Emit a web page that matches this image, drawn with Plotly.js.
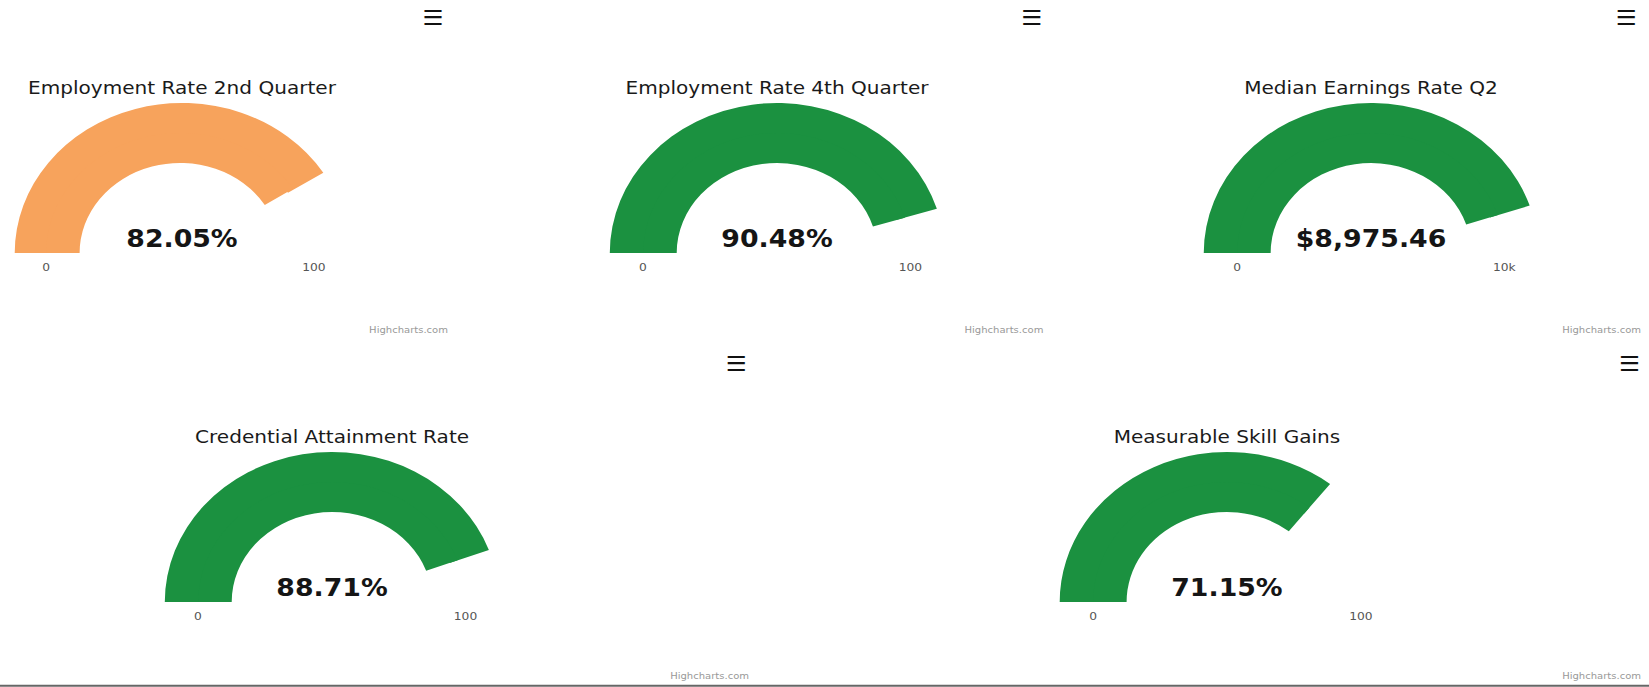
<!DOCTYPE html>
<html><head><meta charset="utf-8">
<script src="https://cdn.plot.ly/plotly-3.0.1.min.js"></script>
<style>
html,body{margin:0;padding:0;background:#fff;overflow:hidden;}
#wrap{width:1649px;height:687px;overflow:hidden;position:relative;background:#fff;}
#chart{width:1479px;height:687px;transform:scaleX(1.115);transform-origin:0 0;}
</style></head><body><div id="wrap"><div id="chart"></div></div>
<script>
// ---- data ----
const titles = ["Employment Rate 2nd Quarter", "Employment Rate 4th Quarter", "Median Earnings Rate Q2", "Credential Attainment Rate", "Measurable Skill Gains"];
const values = [82.05, 90.48, 8975.46, 88.71, 71.15];
const maxValues = [100, 100, 10000, 100, 100];
const minLabels = ["0", "0", "0", "0", "0"];
const maxLabels = ["100", "100", "10k", "100", "100"];
const prefixes = ["", "", "$", "", ""];
const suffixes = ["%", "%", "", "%", "%"];
const formats = [".2f", ".2f", ",.2f", ".2f", ".2f"];

// ---- styling / layout ----
const colors = ["#f7a35c", "#1b9140", "#1b9140", "#1b9140", "#1b9140"];
const W = 1479, H = 687, R = 150;
const panels = [
  {cx: 161.4, base: 253, menuX: 388, menuY: 18, creditX: 403.6, creditY: 330},
  {cx: 696.9, base: 253, menuX: 925, menuY: 18, creditX: 938.1, creditY: 330},
  {cx: 1229.6, base: 253, menuX: 1458, menuY: 18, creditX: 1473.5, creditY: 330},
  {cx: 297.8, base: 602, menuX: 660, menuY: 364, creditX: 673.5, creditY: 676},
  {cx: 1100.4, base: 602, menuX: 1461, menuY: 364, creditX: 1473.5, creditY: 676}
];
const px = x => x / W;
const py = y => 1 - y / H;

const traces = [];
const annotations = [];
titles.forEach((t, i) => {
  const p = panels[i];
  // outer band
  traces.push({
    type: 'indicator', mode: 'number+gauge', value: values[i],
    domain: {x: [px(p.cx - 165), px(p.cx + 165)], y: [py(p.base), py(p.base - R)]},
    number: {prefix: prefixes[i], suffix: suffixes[i], valueformat: formats[i],
             font: {family: 'DejaVu Sans', size: 24, color: '#151515', weight: 'bold'}},
    title: {text: t, font: {family: 'DejaVu Sans', size: 18, color: '#1a1a1a'}},
    gauge: {shape: 'angular', axis: {range: [0, maxValues[i]], visible: false},
            bar: {color: colors[i], thickness: 1, line: {width: 0}},
            bgcolor: 'rgba(0,0,0,0)', borderwidth: 0}
  });
  // inner band (widens the solid gauge to a 60% inner radius)
  traces.push({
    type: 'indicator', mode: 'gauge', value: values[i],
    domain: {x: [px(p.cx - 135), px(p.cx + 135)], y: [py(p.base), py(p.base - 0.8 * R)]},
    gauge: {shape: 'angular', axis: {range: [0, maxValues[i]], visible: false},
            bar: {color: colors[i], thickness: 1, line: {width: 0}},
            bgcolor: 'rgba(0,0,0,0)', borderwidth: 0}
  });
  annotations.push({x: px(p.cx - 0.8 * R), y: py(p.base + 14), xref: 'paper', yref: 'paper', text: minLabels[i],
    showarrow: false, xanchor: 'center', yanchor: 'middle', font: {family: 'DejaVu Sans', size: 11, color: '#555'}});
  annotations.push({x: px(p.cx + 0.8 * R), y: py(p.base + 14), xref: 'paper', yref: 'paper', text: maxLabels[i],
    showarrow: false, xanchor: 'center', yanchor: 'middle', font: {family: 'DejaVu Sans', size: 11, color: '#555'}});
  annotations.push({x: px(p.menuX), y: py(p.menuY), xref: 'paper', yref: 'paper', text: '\u2630',
    showarrow: false, xanchor: 'center', yanchor: 'middle', font: {family: 'DejaVu Sans', size: 21, color: '#111'}});
  annotations.push({x: px(p.creditX), y: py(p.creditY), xref: 'paper', yref: 'paper', text: 'Highcharts.com',
    showarrow: false, xanchor: 'right', yanchor: 'middle', font: {family: 'DejaVu Sans', size: 9, color: '#999'}});
});

const layout = {
  width: W, height: H,
  margin: {l: 0, r: 0, t: 0, b: 0},
  paper_bgcolor: '#ffffff',
  showlegend: false,
  annotations: annotations,
  shapes: [{type: 'line', xref: 'paper', yref: 'paper', x0: 0, x1: 1, y0: 0.002, y1: 0.002,
            line: {color: '#666', width: 2}}]
};
Plotly.newPlot('chart', traces, layout, {displayModeBar: false, staticPlot: true});
</script></body></html>
